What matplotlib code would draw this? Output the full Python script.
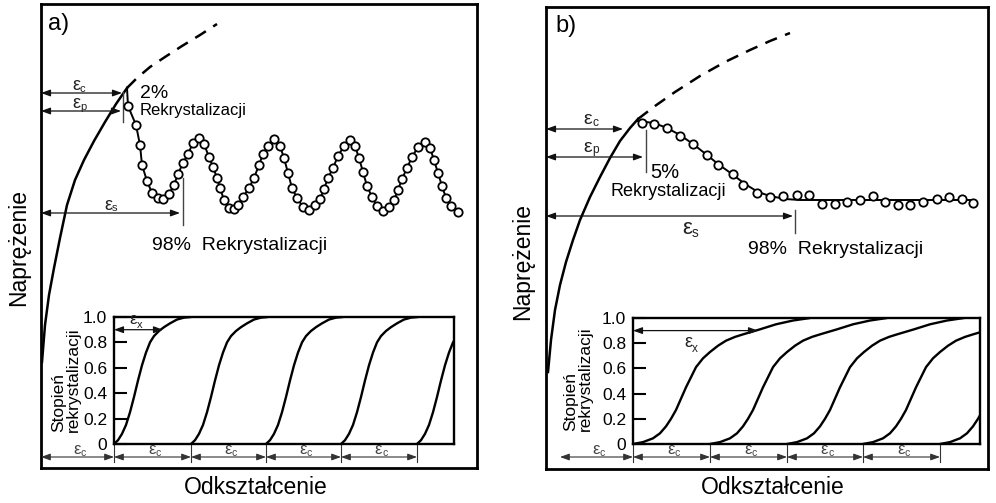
import matplotlib
matplotlib.use('Agg')
import matplotlib.pyplot as plt

plt.rcParams['font.family'] = ['Liberation Sans', 'DejaVu Sans']

# ---------------- data (pixel-like units) ----------------
# panel a: flow curve, dashed extension, oscillating curve (circles)
a_flow_x = [42, 45, 49, 54, 60, 67, 75, 84, 94, 105, 116, 127]
a_flow_y = [362, 325, 295, 268, 238, 205, 180, 160, 141, 122, 104, 88]
a_dash_x = [127, 137, 150, 165, 182, 200, 217]
a_dash_y = [88, 78, 67, 57, 46, 35, 24]
a_osc_x = [128, 136, 140, 142, 147, 152, 158, 163, 169, 174,
           178, 183, 188, 193, 199, 204, 209, 213, 217, 220,
           224, 229, 234, 238, 243, 249, 254, 259, 263, 268,
           274, 280, 284, 288, 292, 297, 303, 309, 315, 320,
           324, 328, 333, 338, 344, 350, 355, 359, 363, 367,
           372, 377, 383, 389, 394, 398, 402, 407, 412, 418,
           425, 430, 434, 438, 442, 446, 451, 458]
a_osc_y = [106, 125, 145, 165, 181, 193, 198, 199, 194, 185,
           174, 163, 154, 143, 138, 144, 157, 167, 178, 188,
           200, 208, 209, 205, 197, 188, 178, 165, 154, 146,
           139, 146, 158, 173, 188, 198, 207, 210, 205, 199,
           189, 178, 168, 156, 146, 140, 146, 158, 172, 186,
           197, 206, 211, 207, 200, 190, 179, 168, 157, 147,
           142, 148, 160, 173, 186, 198, 206, 212]

# panel b
b_flow_x = [548, 551, 555, 560, 566, 573, 580, 590, 600, 610, 620, 630, 638]
b_flow_y = [372, 340, 310, 285, 262, 240, 220, 197, 177, 158, 141, 128, 119]
b_dash_x = [638, 655, 675, 700, 725, 750, 770, 790]
b_dash_y = [119, 106, 92, 76, 62, 50, 41, 33]
b_line_x = [638, 654, 667, 680, 693, 707, 718, 732, 745, 758, 770, 785, 800, 975]
b_line_y = [121, 123, 128, 135, 144, 155, 164, 174, 184, 192, 196, 199, 200, 200]
b_circ_x = [642, 654, 667, 680, 693, 707, 718, 733, 743, 757, 770, 783, 797, 809,
            822, 835, 847, 860, 873, 885, 898, 910, 923, 937, 949, 962, 973]
b_circ_y = [123, 124, 128, 136, 144, 155, 165, 174, 185, 193, 197, 196, 195, 195,
            204, 204, 202, 200, 196, 202, 205, 205, 202, 199, 197, 199, 203]

# inset: recrystallisation fraction curves (shape + onsets)
inset_ticks = [0, 0.2, 0.4, 0.6, 0.8, 1.0]
inset_ticklabels = ['0', '0.2', '0.4', '0.6', '0.8', '1.0']
ia_shape_dx = [0, 4, 8, 12, 16, 20, 24, 28, 32, 36, 40, 45, 50, 56, 63, 70, 77]
ia_shape_y = [0, 0.03, 0.08, 0.15, 0.25, 0.37, 0.50, 0.62, 0.72, 0.80, 0.85, 0.89,
              0.92, 0.95, 0.98, 0.995, 1.0]
ia_onsets = [114, 191, 266, 341, 417]
ib_shape_dx = [0, 10, 20, 27, 33, 38, 43, 48, 53, 58, 63, 70, 77, 85, 93, 102, 110,
               127, 143, 160, 177]
ib_shape_y = [0, 0.015, 0.045, 0.085, 0.14, 0.20, 0.27, 0.36, 0.45, 0.53, 0.61, 0.68,
              0.73, 0.78, 0.82, 0.85, 0.87, 0.91, 0.95, 0.98, 1.0]
ib_onsets = [633, 710, 787, 863, 940]

# ---------------------------------------------------------------------------
W, H = 996, 503
fig = plt.figure(figsize=(W / 100, H / 100), dpi=100)
fig.patch.set_facecolor('white')


def rect(l, t, r, b):
    return [l / W, 1 - b / H, (r - l) / W, (b - t) / H]


def fpx(x, y):
    return x / W, 1 - y / H


def main_axes(l, t, r, b):
    ax = fig.add_axes(rect(l, t, r, b))
    ax.set_xlim(l, r)
    ax.set_ylim(b, t)
    ax.set_xticks([])
    ax.set_yticks([])
    for s in ax.spines.values():
        s.set_linewidth(2.0)
    return ax


def harrow(ax, x0, x1, y, lw=0.9, color='#111111'):
    ax.annotate('', xy=(x1, y), xytext=(x0, y),
                arrowprops=dict(arrowstyle='<|-|>,head_length=0.55,head_width=0.2',
                                lw=lw, color=color, shrinkA=0, shrinkB=0),
                annotation_clip=False)


def eps_label(ax, x, y, sub, size=13, color='#222222', va='center'):
    ax.text(x, y, 'ε', fontsize=size, color=color, ha='right', va=va)
    ax.text(x, y + size * 0.25, sub, fontsize=size * 0.62, color=color, ha='left', va=va)


def inset_axes(l, t, r, b, onsets, sdx, sy):
    ax = fig.add_axes(rect(l, t, r, b))
    ax.set_xlim(l, r)
    ax.set_ylim(0, 1)
    ax.set_xticks([])
    ax.set_yticks(inset_ticks)
    ax.set_yticklabels(inset_ticklabels, fontsize=12.5)
    ax.tick_params(axis='y', direction='in', length=9, width=1.5, pad=5)
    for s in ax.spines.values():
        s.set_linewidth(1.7)
    for o in onsets:
        ax.plot([o + d for d in sdx], sy, color='k', lw=1.7, solid_capstyle='round')
    return ax


def bottom_arrows(ax, start, onsets):
    pts = [start] + onsets
    for i in range(len(onsets)):
        harrow(ax, pts[i], pts[i + 1], 457, lw=0.8, color='#333333')
        eps_label(ax, (pts[i] + pts[i + 1]) / 2 + 3, 450, 'c', size=12, color='#444444')
    for o in onsets:
        ax.plot([o, o], [444, 462], color='#333333', lw=0.8)


# ============================ panel a ============================
axa = main_axes(41, 4, 477, 468)
axa.plot(a_flow_x, a_flow_y, color='k', lw=1.8)
axa.plot(a_dash_x, a_dash_y, color='k', lw=1.8, dashes=(5, 3.5))
axa.plot([a_flow_x[-1]] + a_osc_x, [a_flow_y[-1]] + a_osc_y, color='k', lw=1.4, zorder=3)
axa.plot(a_osc_x, a_osc_y, 'o', ms=6.0, mfc='white', mec='k', mew=1.3, zorder=4)
axa.text(48, 24, 'a)', fontsize=17, ha='left', va='center')

harrow(axa, 41, 122, 93)
harrow(axa, 41, 121, 111)
eps_label(axa, 80, 86, 'c')
eps_label(axa, 80, 104, 'p')
axa.plot([123, 123], [92, 122], color='#444444', lw=1.0)
axa.text(140, 93, '2%', fontsize=14, ha='left', va='center')
axa.text(140, 111, 'Rekrystalizacji', fontsize=12, ha='left', va='center')

harrow(axa, 41, 180, 213)
eps_label(axa, 112, 205, 's')
axa.plot([183, 183], [178, 225], color='#444444', lw=1.0)
axa.text(152, 246, '98%  Rekrystalizacji', fontsize=14, ha='left', va='center')
bottom_arrows(axa, 41, ia_onsets)

ia = inset_axes(114, 317, 454, 444, ia_onsets, ia_shape_dx, ia_shape_y)
harrow(ia, 114, 163, 0.9, lw=0.9)
ia.text(137, 0.92, 'ε', fontsize=12, color='#222222', ha='right', va='bottom')
ia.text(137, 0.90, 'x', fontsize=8, color='#222222', ha='left', va='bottom')

fig.text(*fpx(59, 432), 'Stopień', rotation=90, fontsize=12.5, ha='center', va='bottom')
fig.text(*fpx(73, 432), 'rekrystalizacji', rotation=90, fontsize=12.5, ha='center', va='bottom')
fig.text(*fpx(19, 248), 'Naprężenie', rotation=90, fontsize=16.5, ha='center', va='center')
fig.text(*fpx(256, 487), 'Odkształcenie', fontsize=16.5, ha='center', va='center')

# ============================ panel b ============================
axb = main_axes(546, 7, 988, 469)
axb.plot(b_flow_x, b_flow_y, color='k', lw=1.8)
axb.plot(b_dash_x, b_dash_y, color='k', lw=1.8, dashes=(5, 3.5))
axb.plot(b_line_x, b_line_y, color='k', lw=1.4, zorder=3)
axb.plot(b_circ_x, b_circ_y, 'o', ms=6.0, mfc='white', mec='k', mew=1.3, zorder=4)
axb.text(555, 26, 'b)', fontsize=17, ha='left', va='center')

harrow(axb, 546, 623, 129)
harrow(axb, 546, 643, 157)
eps_label(axb, 592, 119, 'c', size=14)
eps_label(axb, 592, 147, 'p', size=14)
axb.plot([646, 646], [130, 172], color='#444444', lw=1.0)
axb.text(650, 172, '5%', fontsize=14.5, ha='left', va='center')
axb.text(610, 191, 'Rekrystalizacji', fontsize=13, ha='left', va='center')

harrow(axb, 546, 793, 216)
eps_label(axb, 692, 229, 's', size=16)
axb.plot([795, 795], [210, 233], color='#444444', lw=1.0)
axb.text(748, 250, '98%  Rekrystalizacji', fontsize=14, ha='left', va='center')
bottom_arrows(axb, 560, ib_onsets)

ib = inset_axes(633, 318, 980, 444, ib_onsets, ib_shape_dx, ib_shape_y)
harrow(ib, 633, 758, 0.9, lw=0.9)
ib.text(692, 0.87, 'ε', fontsize=13, color='#222222', ha='right', va='top')
ib.text(692, 0.80, 'x', fontsize=8.5, color='#222222', ha='left', va='top')

fig.text(*fpx(571, 431), 'Stopień', rotation=90, fontsize=12.5, ha='center', va='bottom')
fig.text(*fpx(585, 431), 'rekrystalizacji', rotation=90, fontsize=12.5, ha='center', va='bottom')
fig.text(*fpx(523, 262), 'Naprężenie', rotation=90, fontsize=16.5, ha='center', va='center')
fig.text(*fpx(773, 488), 'Odkształcenie', fontsize=16.5, ha='center', va='center')

fig.savefig('out.png', dpi=100, facecolor='white')
